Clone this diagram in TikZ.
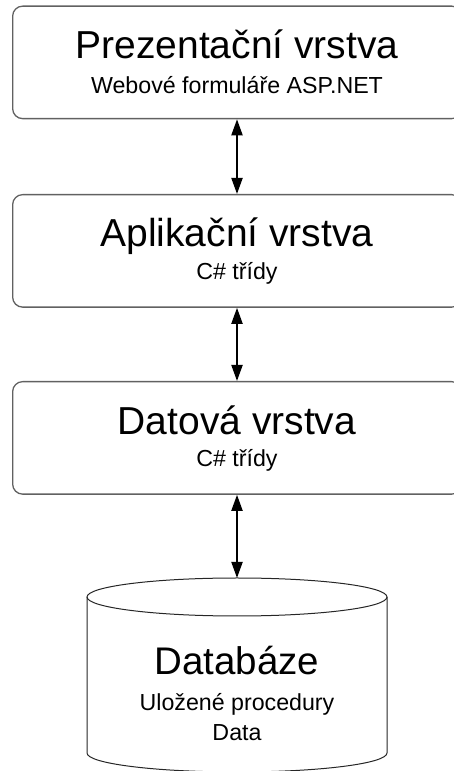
\documentclass[tikz,border=0pt]{standalone}
\usepackage{fontspec}
\setmainfont{Liberation Sans}
\usetikzlibrary{arrows.meta}
\begin{document}
\begin{tikzpicture}[x=1pt,y=1pt,
  layer/.style={draw=black!62, line width=1.3pt, rounded corners=10pt,
    minimum width=449pt, minimum height=112.5pt, inner sep=0pt, anchor=north west},
  ttl/.style={anchor=base, font=\fontsize{39}{41}\selectfont, inner sep=0pt},
  sub/.style={anchor=base, font=\fontsize{23.2}{25}\selectfont, inner sep=0pt},
  dbttl/.style={anchor=base, font=\fontsize{38.5}{40}\selectfont, inner sep=0pt},
  dbline/.style={draw=black!85, line width=1pt},
  arr/.style={line width=1.9pt,
    {Triangle[width=11pt,length=16pt]}-{Triangle[width=11pt,length=16pt]}}]
\useasboundingbox (0,0) rectangle (454,771);
\clip (0,0) rectangle (454,771);
\coordinate (ax) at (237,0);

% layers
\node[layer] (b1) at (12,765.5) {};
\node[layer] (b2) at (12,577) {};
\node[layer] (b3) at (12,390) {};

\node[ttl] (t1) at (237,712) {Prezentační vrstva};
\node[sub] (s1) at (237,677) {Webové formuláře ASP.NET};
\node[ttl] (t2) at (237,524) {Aplikační vrstva};
\node[sub] (s2) at (237,491) {C\# třídy};
\node[ttl] (t3) at (237,336) {Datová vrstva};
\node[sub] (s3) at (237,304) {C\# třídy};

% database cylinder
\draw[dbline] (87,174) -- (87,18)
  arc[start angle=180, end angle=360, x radius=150, y radius=19] -- (387,174);
\draw[dbline] (237,174) ellipse[x radius=150, y radius=19];
\coordinate (dbtop) at (237,193);
\node[dbttl] (t4) at (237,96) {Databáze};
\node[sub] (s4) at (237,60) {Uložené procedury};
\node[sub] (s5) at (237,30) {Data};

% connectors
\draw[arr] (b1.south -| ax) -- (b2.north -| ax);
\draw[arr] (b2.south -| ax) -- (b3.north -| ax);
\draw[arr] (b3.south -| ax) -- (dbtop);
\end{tikzpicture}
\end{document}
